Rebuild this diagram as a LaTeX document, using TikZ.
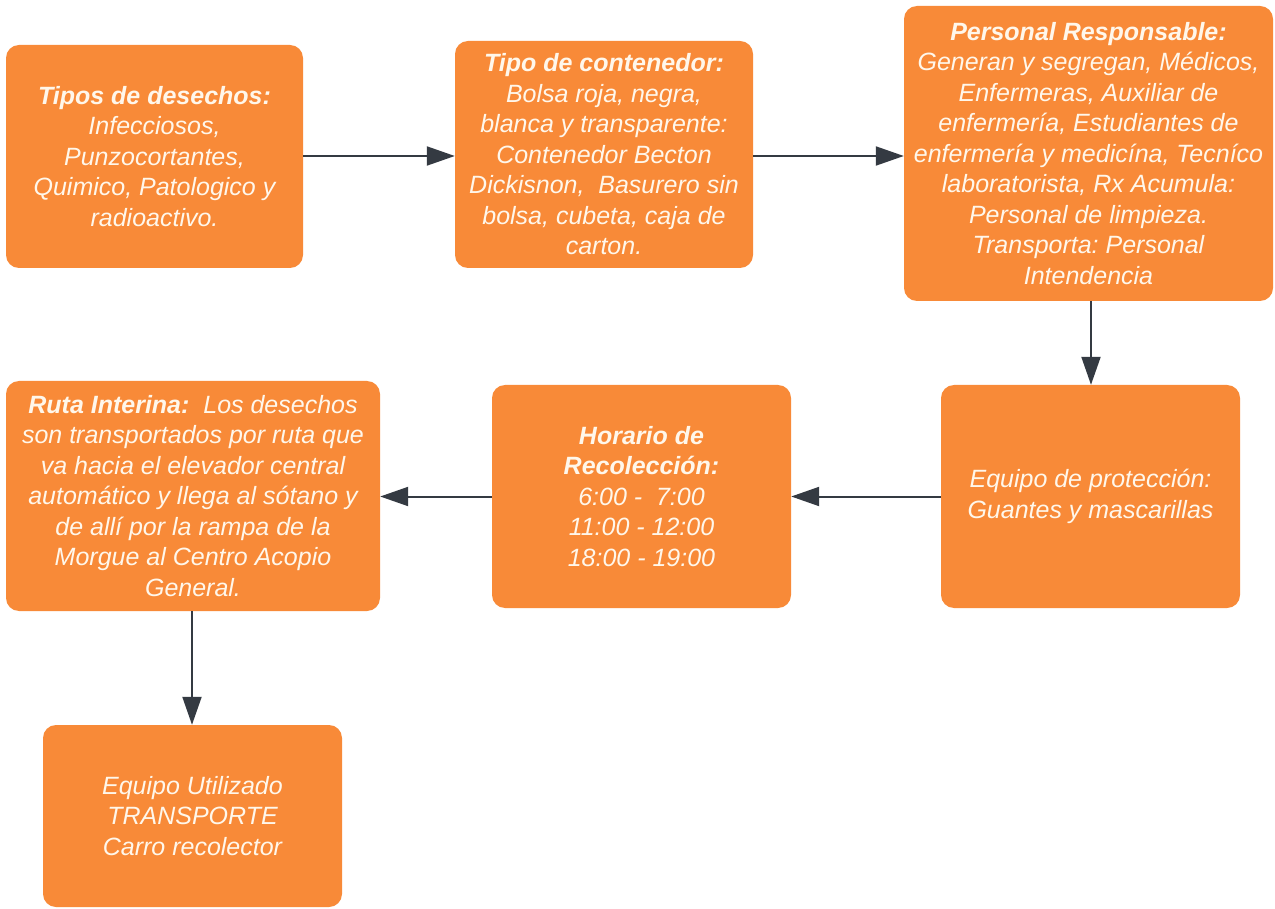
\documentclass[tikz,border=0pt]{standalone}
\usepackage{fontspec}
\setmainfont{Liberation Sans}
\usetikzlibrary{arrows.meta}
\definecolor{boxorange}{RGB}{248,138,56}
\definecolor{txtcol}{RGB}{255,247,235}
\definecolor{arrcol}{RGB}{52,58,66}
\frenchspacing
\begin{document}
\begin{tikzpicture}[x=1pt,y=-1pt,
  box/.style={draw=none, fill=boxorange, rounded corners=13pt, inner sep=0pt,
    align=center, text=txtcol, font=\fontsize{25}{30.5}\selectfont\itshape\frenchspacing},
  conn/.style={draw=arrcol, line width=2pt, -{Triangle[length=28pt,width=19pt]}}]
\useasboundingbox (0,0) rectangle (1275,909);
\fill[white] (0,0) rectangle (1275,909);
\node[box, minimum width=297pt, minimum height=223pt] (b1) at (154.5,156.5)
  {\textbf{Tipos de desechos:}\\Infecciosos,\\Punzocortantes,\\Quimico, Patologico y\\radioactivo.};
\node[box, minimum width=298pt, minimum height=227pt] (b2) at (604,154.5)
  {\textbf{Tipo de contenedor:}\\Bolsa roja, negra,\\blanca y transparente:\\Contenedor Becton\\Dickisnon,\ \ Basurero sin\\bolsa, cubeta, caja de\\carton.};
\node[box, minimum width=369pt, minimum height=295pt] (b3) at (1088.5,153.5)
  {\textbf{Personal Responsable:}\\Generan y segregan, Médicos,\\Enfermeras, Auxiliar de\\enfermería, Estudiantes de\\enfermería y medicína, Tecníco\\laboratorista, Rx Acumula:\\Personal de limpieza.\\Transporta: Personal\\Intendencia};
\node[box, minimum width=299pt, minimum height=223pt] (b4) at (1090.5,496.5)
  {Equipo de protección:\\Guantes y mascarillas};
\node[box, minimum width=299pt, minimum height=223pt] (b5) at (641.5,496.5)
  {\textbf{Horario de}\\\textbf{Recolección:}\\6:00 -\ \ 7:00\\11:00 - 12:00\\18:00 - 19:00};
\node[box, minimum width=374pt, minimum height=230pt] (b6) at (193,496)
  {\textbf{Ruta Interina:}\ \ Los desechos\\son transportados por ruta que\\va hacia el elevador central\\automático y llega al sótano y\\de allí por la rampa de la\\Morgue al Centro Acopio\\General.};
\node[box, minimum width=299pt, minimum height=182pt] (b7) at (192.5,816)
  {Equipo Utilizado\\TRANSPORTE\\Carro recolector};
\draw[conn] (b1.east |- 0,156) -- (b2.west |- 0,156);
\draw[conn] (b2.east |- 0,156) -- (b3.west |- 0,156);
\draw[conn] (b3.south -| 1091,0) -- (b4.north -| 1091,0);
\draw[conn] (b4.west) -- (b5.east);
\draw[conn] (b5.west) -- (b6.east |- b5.west);
\draw[conn] (b6.south -| 192,0) -- (b7.north -| 192,0);
\end{tikzpicture}
\end{document}
